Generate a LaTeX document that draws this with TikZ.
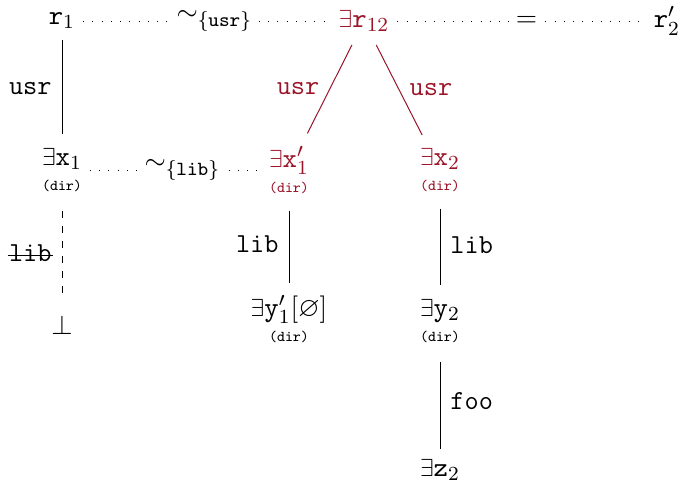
\documentclass[tikz,border=0pt]{standalone}
\usepackage{amsmath}
\usepackage{amssymb}
\usetikzlibrary{positioning, calc}

\definecolor{tred}{RGB}{155,20,40}
\newcommand{\dirtag}{{\fontsize{6}{7}\selectfont\ttfamily (dir)}}
\newcommand{\exq}{\scalebox{0.9}{$\exists$}}
\newcommand{\strk}[1]{\setbox0\hbox{#1}\rlap{\kern-0.6pt\raisebox{0.5ex}{\rule{\dimexpr\wd0+1.2pt\relax}{0.4pt}}}\box0}

\tikzset{
    tnode/.style={inner sep=3pt, align=center, font=\fontsize{11}{13}\selectfont},
    rnode/.style={tnode, text=tred},
    elbl/.style={font=\fontsize{11}{13}\selectfont\ttfamily, inner sep=4pt},
    simlink/.style={line width=0.4pt, dash pattern=on 0.4pt off 3.3pt},
    rlbl/.style={fill=white, inner sep=0.5pt, font=\fontsize{11}{13}\selectfont}
}

\begin{document}
\begin{tikzpicture}[x=0.4pt, y=-0.4pt]
    \useasboundingbox (0,0) rectangle (682,487);
    % roots
    \node[tnode] (r1) at (62,21) {$\mathtt{r}_1$};
    \node[rnode] (r12) at (364,21) {\exq$\mathtt{r}_{12}$};
    \node[tnode] (r2) at (667,21) {$\mathtt{r}'_2$};
    % first level
    \node[tnode] (x1) at (62,170) {\exq$\mathtt{x}_1$\\[-3pt]\dirtag};
    \node[rnode] (x1p) at (289,170) {\exq$\mathtt{x}'_1$\\[-3pt]\dirtag};
    \node[rnode] (x2) at (440,170) {\exq$\mathtt{x}_2$\\[-3pt]\dirtag};
    % second level
    \node[tnode] (bot) at (62,325) {$\bot$};
    \node[tnode] (y1p) at (289,319) {\exq$\mathtt{y}'_1[\varnothing]$\\[-3pt]\dirtag};
    \node[tnode] (y2) at (440,321) {\exq$\mathtt{y}_2$\\[-3pt]\dirtag};
    \node[tnode] (z2) at (440,470) {\exq$\mathtt{z}_2$};

    % tree edges
    \draw[shorten <=1.2pt, shorten >=2.4pt] (r1) -- node[elbl, left] {usr} (x1);
    \draw[tred, shorten <=2.4pt, shorten >=2.2pt] (r12) -- node[elbl, left] {usr} (x1p);
    \draw[tred, shorten <=2.4pt, shorten >=2.4pt] (r12) -- node[elbl, right] {usr} (x2);
    \draw[dashed, shorten <=4.5pt, shorten >=2.8pt] (x1) -- node[elbl, left] {\strk{lib}} (bot);
    \draw[shorten <=3.6pt, shorten >=1.8pt] (x1p) -- node[elbl, left] {lib} (y1p);
    \draw[shorten <=3.6pt, shorten >=2.6pt] (x2) -- node[elbl, right] {lib} (y2);
    \draw[shorten <=4.5pt, shorten >=0.8pt] (y2) -- node[elbl, right] {foo} (z2);

    % relations
    \draw[simlink] (r1) -- node[rlbl, pos=0.53] {$\sim_{\mathtt{\{usr\}}}$} (r12);
    \draw[simlink] (r12) -- node[rlbl, pos=0.52] {$=$} (r2);
    \draw[simlink] (x1) -- node[rlbl, pos=0.54] {$\sim_{\mathtt{\{lib\}}}$} (x1p);
\end{tikzpicture}
\end{document}
